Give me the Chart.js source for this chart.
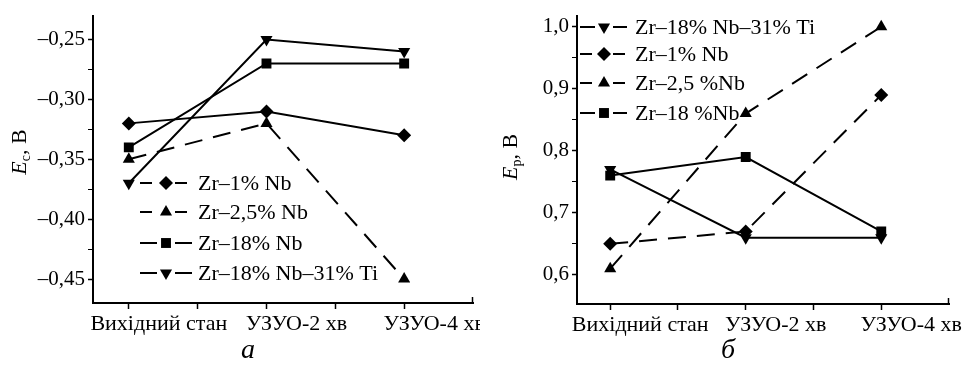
<!DOCTYPE html>
<html><head><meta charset="utf-8">
<script src="https://cdn.jsdelivr.net/npm/chart.js@4/dist/chart.umd.min.js"></script>
<style>
html,body{margin:0;padding:0;background:#fff;}
#wrap{position:relative;width:965px;height:368px;overflow:hidden;background:#fff;}
#c1{position:absolute;left:0;top:0;}
#c2{position:absolute;left:480px;top:0;}
</style></head><body>
<div id="wrap">
<canvas id="c1" width="480" height="368"></canvas>
<canvas id="c2" width="485" height="368"></canvas>
</div>
<script>
// ---- data ----
const categories = ['Вихідний стан', 'УЗУО-2 хв', 'УЗУО-4 хв'];
const namesA = ['Zr–1% Nb', 'Zr–2,5% Nb', 'Zr–18% Nb', 'Zr–18% Nb–31% Ti'];
const namesB = ['Zr–18% Nb–31% Ti', 'Zr–1% Nb', 'Zr–2,5 %Nb', 'Zr–18 %Nb'];
// panel a: Ec, V
const ecZr1Nb      = [-0.32, -0.31, -0.33];
const ecZr25Nb     = [-0.35, -0.32, -0.45];
const ecZr18Nb     = [-0.34, -0.27, -0.27];
const ecZr18Nb31Ti = [-0.37, -0.25, -0.26];
// panel b: Ep, V
const epZr18Nb31Ti = [0.77, 0.66, 0.66];
const epZr1Nb      = [0.65, 0.67, 0.89];
const epZr25Nb     = [0.61, 0.86, 1.00];
const epZr18Nb     = [0.76, 0.79, 0.67];
// tick labels
const ecMajorTicks = [-0.45, -0.40, -0.35, -0.30, -0.25];
const epMajorTicks = [0.6, 0.7, 0.8, 0.9, 1.0];
const titleA = {main: 'E', sub: 'с', rest: ', В'};
const titleB = {main: 'E', sub: 'р', rest: ', В'};
const panelA = 'а', panelB = 'б';

const FONT = "'Liberation Serif', 'Times New Roman', serif";
const DASH = [18, 11];

function pts(arr){ return arr.map((v,i)=>({x:i, y:v})); }
function withMinors(majors){
  const out = [];
  for (let i=0;i<majors.length;i++){
    out.push(majors[i]);
    if (i<majors.length-1) out.push((majors[i]+majors[i+1])/2);
  }
  return out;
}
function isMajor(v, majors){ return majors.some(m=>Math.abs(m-v)<1e-9); }
function fmt(v, d){ return v.toFixed(d).replace('.', ',').replace('-', '–'); }

function ds(label, data, style, rot, dashed, radius){
  return {
    label, data: pts(data),
    borderColor:'#000', backgroundColor:'#000', borderWidth:2,
    borderDash: dashed ? DASH : [],
    pointStyle: style, rotation: rot, pointRadius: radius || 7,
    pointBackgroundColor:'#000', pointBorderColor:'#000', pointBorderWidth:0,
    tension:0, fill:false
  };
}

const deco = {
  id:'deco',
  afterDatasetsDraw(chart, args, o){
    const ctx = chart.ctx, ca = chart.chartArea;
    ctx.save();
    // end tick on x axis
    ctx.strokeStyle='#000'; ctx.lineWidth=1.5;
    ctx.beginPath(); ctx.moveTo(ca.right-0.5, ca.bottom); ctx.lineTo(ca.right-0.5, ca.bottom-6); ctx.stroke();
    // legend
    o.legend.forEach(e=>{
      const d = chart.data.datasets[e.ds];
      ctx.strokeStyle='#000'; ctx.lineWidth=2;
      ctx.setLineDash(e.dashed ? [12, 6] : []);
      ctx.beginPath(); ctx.moveTo(o.lx1, e.y); ctx.lineTo(o.mx-9, e.y); ctx.stroke();
      ctx.beginPath(); ctx.moveTo(o.mx+9, e.y); ctx.lineTo(o.lx2, e.y); ctx.stroke();
      ctx.setLineDash([]);
      ctx.fillStyle='#000';
      Chart.helpers.drawPoint(ctx, {pointStyle:d.pointStyle, rotation:d.rotation||0, radius:d.pointRadius, borderWidth:0}, o.mx, e.y);
      ctx.font = '22px ' + FONT; ctx.textBaseline='middle'; ctx.textAlign='left';
      ctx.fillText(e.text, o.tx, e.y+1);
    });
    // y title with subscript
    const t = o.title;
    ctx.translate(t.x, t.y); ctx.rotate(-Math.PI/2);
    ctx.textBaseline='alphabetic'; ctx.textAlign='left';
    const fMain = 'italic 22px ' + FONT, fSub = '14px ' + FONT, fRest = '22px ' + FONT;
    ctx.font=fMain; const w1=ctx.measureText(t.main).width;
    ctx.font=fSub; const w2=ctx.measureText(t.sub).width;
    ctx.font=fRest; const w3=ctx.measureText(t.rest).width;
    let x = -(w1+w2+w3)/2; const base = 7;
    ctx.font=fMain; ctx.fillText(t.main, x, base); x+=w1;
    ctx.font=fSub; ctx.fillText(t.sub, x, base+4); x+=w2;
    ctx.font=fRest; ctx.fillText(t.rest, x, base);
    ctx.setTransform(1,0,0,1,0,0);
    // panel letter
    ctx.font='italic 28px ' + FONT; ctx.textAlign='center'; ctx.textBaseline='alphabetic';
    ctx.fillText(o.panel.text, o.panel.x, o.panel.y);
    ctx.restore();
  }
};

function makeChart(id, datasets, yMin, yMax, majors, dec, xMin, yW, xH, pad, decoOpts){
  return new Chart(document.getElementById(id), {
    type:'line',
    data:{datasets},
    options:{
      responsive:false, animation:false, devicePixelRatio:1,
      layout:{padding:pad},
      plugins:{legend:{display:false}, tooltip:{enabled:false}, deco:decoOpts},
      scales:{
        x:{
          type:'linear', min:xMin, max:2.5,
          afterBuildTicks(s){ s.ticks=[0,0.5,1,1.5,2].map(v=>({value:v})); },
          afterFit(s){ s.height=xH; },
          border:{display:true, color:'#000', width:2},
          grid:{drawOnChartArea:false, drawTicks:true, tickLength:6, tickColor:'#000', tickWidth:1.5},
          ticks:{autoSkip:false, maxRotation:0, labelOffset:30, padding:2, color:'#000',
                 font:{family:FONT, size:22},
                 callback:(v)=> Number.isInteger(v) ? categories[v] : ''}
        },
        y:{
          type:'linear', min:yMin, max:yMax,
          afterBuildTicks(s){ s.ticks=withMinors(majors).map(v=>({value:v})); },
          afterFit(s){ s.width=yW; },
          border:{display:true, color:'#000', width:2},
          grid:{drawOnChartArea:false, drawTicks:true, tickLength:5, tickColor:'#000',
                tickWidth:(c)=> isMajor(c.tick.value, majors) ? 1.5 : 1},
          ticks:{autoSkip:false, padding:3, color:'#000', font:{family:FONT, size:21},
                 callback:(v)=> isMajor(v, majors) ? fmt(v, dec) : ''}
        }
      }
    },
    plugins:[deco]
  });
}

const dsA = [
  ds(namesA[0], ecZr1Nb, 'rectRot', 0, false, 7),
  ds(namesA[1], ecZr25Nb, 'triangle', 0, true, 7),
  ds(namesA[2], ecZr18Nb, 'rect', 0, false, 7),
  ds(namesA[3], ecZr18Nb31Ti, 'triangle', 180, false, 7)
];
makeChart('c1', dsA, -0.47, -0.23, ecMajorTicks, 2, -0.26, 93, 65, {top:10, right:3, left:0, bottom:0}, {
  lx1:140, lx2:192, mx:166, tx:198,
  legend:[
    {ds:0, y:183, dashed:true, text:namesA[0]},
    {ds:1, y:212, dashed:true, text:namesA[1]},
    {ds:2, y:243, dashed:false, text:namesA[2]},
    {ds:3, y:273, dashed:false, text:namesA[3]}
  ],
  title:{...titleA, x:19, y:152},
  panel:{text:panelA, x:248, y:358}
});

const dsB = [
  ds(namesB[0], epZr18Nb31Ti, 'triangle', 180, false, 7),
  ds(namesB[1], epZr1Nb, 'rectRot', 0, true, 7),
  ds(namesB[2], epZr25Nb, 'triangle', 0, true, 7),
  ds(namesB[3], epZr18Nb, 'rect', 0, false, 7)
];
makeChart('c2', dsB, 0.553, 1.018, epMajorTicks, 1, -0.245, 97, 64, {top:15, right:16, left:0, bottom:0}, {
  lx1:100, lx2:147, mx:124, tx:155,
  legend:[
    {ds:0, y:27, dashed:false, text:namesB[0]},
    {ds:1, y:54, dashed:true, text:namesB[1]},
    {ds:2, y:83, dashed:true, text:namesB[2]},
    {ds:3, y:113, dashed:false, text:namesB[3]}
  ],
  title:{...titleB, x:30, y:157},
  panel:{text:panelB, x:248, y:358}
});
</script>
</body></html>
